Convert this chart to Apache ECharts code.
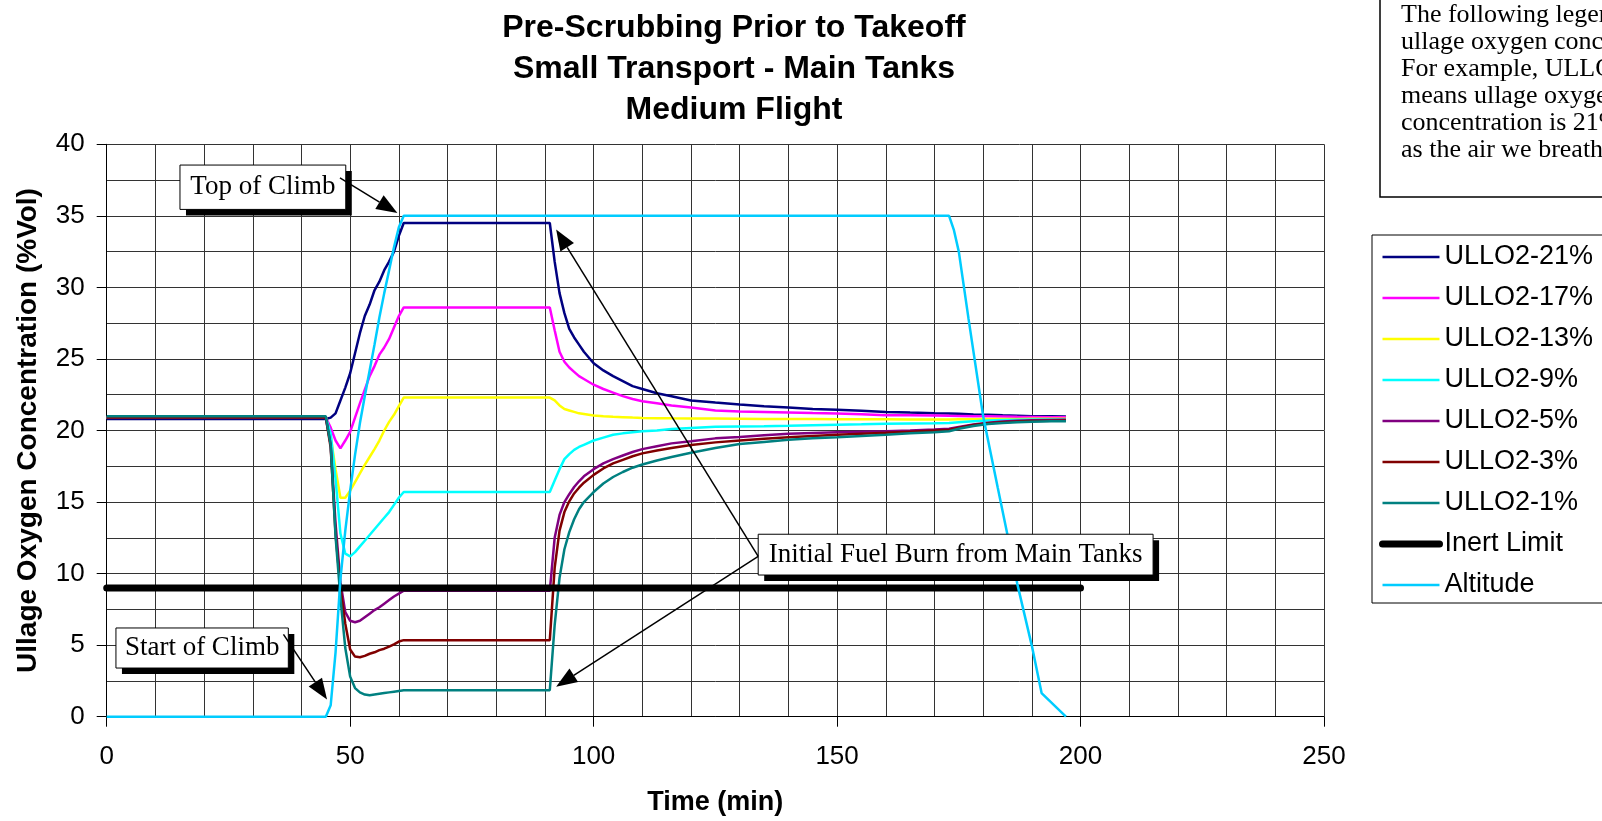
<!DOCTYPE html>
<html>
<head>
<meta charset="utf-8">
<script src="https://cdn.jsdelivr.net/npm/echarts@6/dist/echarts.min.js"></script>
<style>
html,body{margin:0;padding:0;background:#fff;}
#chart{width:1602px;height:821px;}
</style>
</head>
<body>
<div id="chart"></div>
<script>
// ---- data ----
const time = [0,45,46,47,48,49,50,51,52,53,54,55,56,57,58,59,60,61,91,92,93,94,95,96,97,98,100,102,104,106,108,110,113,116,120,125,130,135,140,145,150,155,160,165,170,173,175,178,181,184,187,190,194,197];
const ullo21 = [20.8,20.8,20.9,21.2,22.1,23.0,24.0,25.4,26.8,28.0,28.8,29.8,30.4,31.2,31.8,32.5,33.6,34.5,34.5,31.8,29.6,28.2,27.1,26.5,26.0,25.5,24.7,24.2,23.8,23.45,23.1,22.9,22.6,22.4,22.1,21.95,21.82,21.7,21.6,21.5,21.45,21.38,21.3,21.25,21.21,21.19,21.17,21.12,21.1,21.06,21.03,21.0,20.99,20.98];
const ullo17 = [20.9,20.9,20.2,19.3,18.75,19.3,19.9,20.9,21.9,22.85,23.8,24.5,25.3,25.8,26.4,27.2,28.0,28.6,28.6,27.0,25.5,24.8,24.4,24.1,23.8,23.6,23.2,22.9,22.65,22.4,22.2,22.05,21.9,21.75,21.6,21.4,21.33,21.3,21.26,21.22,21.19,21.13,21.07,21.06,21.05,21.03,21.02,21.0,21.0,20.98,20.96,20.95,20.93,20.93];
const ullo13 = [20.9,20.9,19.6,17.3,15.3,15.3,15.8,16.4,17.0,17.6,18.15,18.7,19.3,20.0,20.6,21.1,21.7,22.3,22.3,22.1,21.75,21.5,21.4,21.3,21.2,21.15,21.05,21.0,20.96,20.93,20.9,20.88,20.86,20.85,20.84,20.83,20.82,20.8,20.8,20.8,20.79,20.78,20.78,20.77,20.77,20.77,20.78,20.79,20.8,20.8,20.81,20.82,20.82,20.82];
const ullo9 = [20.9,20.9,19.8,16.6,12.8,11.4,11.2,11.5,11.9,12.3,12.7,13.1,13.5,13.9,14.3,14.8,15.3,15.7,15.7,16.5,17.3,18.0,18.35,18.65,18.85,19.0,19.3,19.5,19.7,19.8,19.88,19.94,20.0,20.1,20.18,20.26,20.28,20.3,20.33,20.37,20.4,20.43,20.47,20.49,20.51,20.53,20.58,20.65,20.7,20.73,20.75,20.76,20.77,20.77];
const ullo5 = [20.9,20.9,19.0,13.5,9.4,7.3,6.7,6.6,6.7,6.95,7.2,7.45,7.65,7.9,8.15,8.4,8.6,8.8,8.8,12.5,14.1,15.0,15.55,16.05,16.45,16.8,17.3,17.7,18.0,18.25,18.5,18.7,18.9,19.1,19.25,19.45,19.55,19.67,19.77,19.83,19.88,19.92,19.95,20.0,20.07,20.12,20.25,20.42,20.55,20.63,20.68,20.71,20.74,20.75];
const ullo3 = [20.9,20.9,18.8,12.8,9.0,6.5,4.7,4.2,4.15,4.25,4.4,4.5,4.65,4.75,4.9,5.05,5.25,5.35,5.35,10.4,13.0,14.3,15.05,15.6,16.0,16.35,16.9,17.35,17.7,17.95,18.2,18.4,18.6,18.77,18.98,19.17,19.3,19.42,19.53,19.62,19.7,19.78,19.84,19.92,20.0,20.05,20.2,20.38,20.5,20.58,20.63,20.66,20.69,20.7];
const ullo1 = [21.0,21.0,19.0,12.6,8.3,4.8,2.8,2.0,1.7,1.55,1.5,1.55,1.6,1.65,1.7,1.75,1.8,1.85,1.85,6.4,9.7,11.7,12.9,13.8,14.5,15.0,15.7,16.3,16.75,17.1,17.4,17.62,17.9,18.15,18.45,18.78,19.05,19.2,19.35,19.45,19.53,19.62,19.7,19.8,19.88,19.95,20.12,20.32,20.45,20.53,20.58,20.61,20.64,20.65];
const inertTime = [0, 200];
const inertLimit = [9, 9];
const altTime = [0,45,46,47,48,49,50,51,52,53,54,55,56,57,58,59,60,61,173,174,175,177,180,183,185,187,190,192,197];
const altitude = [0,0,0.8,4.5,9.6,13.0,15.8,18.3,20.5,22.4,24.2,26.0,27.9,29.6,31.2,32.8,34.2,35,35,34,32.5,27.8,21.0,16.0,12.7,9.3,4.95,1.65,0];
const seriesNames = ['ULLO2-21%','ULLO2-17%','ULLO2-13%','ULLO2-9%','ULLO2-5%','ULLO2-3%','ULLO2-1%','Inert Limit','Altitude'];
const xTicks = [0, 50, 100, 150, 200, 250];
const yTicks = [0, 5, 10, 15, 20, 25, 30, 35, 40];
const titleLines = ['Pre-Scrubbing Prior to Takeoff', 'Small Transport - Main Tanks', 'Medium Flight'];
const noteLines = ['The following legend describes the initial', 'ullage oxygen concentration.', 'For example, ULLO2-21%', 'means ullage oxygen', 'concentration is 21% same', 'as the air we breathe.'];

// ---- chart ----
const zip = (xs, ys) => xs.map((x, i) => [x, ys[i]]);
const colors = ['#000080','#FF00FF','#FFFF00','#00FFFF','#800080','#800000','#008080','#000000','#00CCFF'];
const widths = [2.5, 2.5, 2.5, 2.5, 2.5, 2.5, 2.5, 7, 2.5];
const seriesData = [
  zip(time, ullo21), zip(time, ullo17), zip(time, ullo13), zip(time, ullo9),
  zip(time, ullo5), zip(time, ullo3), zip(time, ullo1),
  zip(inertTime, inertLimit), zip(altTime, altitude)
];
const SANS = 'Liberation Sans, Arial, sans-serif';
const SERIF = 'Liberation Serif, Times New Roman, serif';

const chart = echarts.init(document.getElementById('chart'), null, {renderer: 'canvas'});
const gridLine = {show: true, lineStyle: {color: '#333333', width: 1}};
chart.setOption({
  animation: false,
  backgroundColor: '#fff',
  grid: {left: 106.7, right: 278, top: 144.3, bottom: 104.3, containLabel: false},
  xAxis: {
    type: 'value', min: xTicks[0], max: xTicks[xTicks.length - 1], interval: xTicks[1] - xTicks[0],
    name: 'Time (min)', nameLocation: 'middle', nameGap: 72,
    nameTextStyle: {fontFamily: SANS, fontSize: 27, fontWeight: 'bold', color: '#000'},
    axisLine: {show: true, onZero: false, lineStyle: {color: '#000', width: 1}},
    axisTick: {show: true, length: 10, lineStyle: {color: '#000'}},
    axisLabel: {fontFamily: SANS, fontSize: 26, color: '#000', margin: 27},
    splitLine: gridLine,
    minorTick: {show: false, splitNumber: 5},
    minorSplitLine: gridLine
  },
  yAxis: {
    type: 'value', min: yTicks[0], max: yTicks[yTicks.length - 1], interval: yTicks[1] - yTicks[0],
    name: 'Ullage Oxygen Concentration (%Vol)', nameLocation: 'middle', nameGap: 64,
    nameTextStyle: {fontFamily: SANS, fontSize: 28, fontWeight: 'bold', color: '#000'},
    axisLine: {show: true, onZero: false, lineStyle: {color: '#000', width: 1}},
    axisTick: {show: true, length: 10, lineStyle: {color: '#000'}},
    axisLabel: {fontFamily: SANS, fontSize: 26, color: '#000', margin: 22},
    splitLine: gridLine,
    minorTick: {show: false, splitNumber: 2},
    minorSplitLine: gridLine
  },
  legend: {
    orient: 'vertical', left: 1372, top: 235,
    padding: [7, 30, 3, 7],
    itemWidth: 57, itemHeight: 14, itemGap: 11,
    backgroundColor: '#fff', borderColor: '#000', borderWidth: 1,
    textStyle: {fontFamily: SANS, fontSize: 27, color: '#000', lineHeight: 30},
    itemStyle: {opacity: 0, borderWidth: 0},
    data: seriesNames.map((n, i) => ({
      name: n,
      lineStyle: {color: colors[i], width: widths[i], cap: i === 7 ? 'round' : 'butt', opacity: 1}
    }))
  },
  series: seriesNames.map((name, i) => ({
    name: name, type: 'line', symbol: 'none', data: seriesData[i],
    z: 2 + i,
    lineStyle: {color: colors[i], width: widths[i], cap: i === 7 ? 'round' : 'butt'},
    itemStyle: {color: colors[i]}
  }))
});

// ---- annotations (positions given in data coordinates) ----
const P = (x, y) => chart.convertToPixel({gridIndex: 0}, [x, y]);
function arrow(from, to) {
  const a = P(from[0], from[1]), b = P(to[0], to[1]);
  const dx = b[0] - a[0], dy = b[1] - a[1], len = Math.hypot(dx, dy);
  const ux = dx / len, uy = dy / len, L = 21, W = 8;
  const bx = b[0] - ux * L, by = b[1] - uy * L;
  return [
    {type: 'line', z: 50, shape: {x1: a[0], y1: a[1], x2: bx, y2: by}, style: {stroke: '#000', lineWidth: 1.5}},
    {type: 'polygon', z: 50, shape: {points: [[b[0], b[1]], [bx - uy * W, by + ux * W], [bx + uy * W, by - ux * W]]}, style: {fill: '#000'}}
  ];
}
function callout(text, tl, br, fontSize) {
  const a = P(tl[0], tl[1]), b = P(br[0], br[1]);
  const w = b[0] - a[0], h = b[1] - a[1];
  return [
    {type: 'rect', z: 48, shape: {x: a[0] + 6, y: a[1] + 6, width: w, height: h}, style: {fill: '#000'}},
    {type: 'rect', z: 49, shape: {x: a[0], y: a[1], width: w, height: h}, style: {fill: '#fff', stroke: '#000', lineWidth: 1}},
    {type: 'text', z: 51, x: a[0] + w / 2, y: a[1] + h / 2,
     style: {text: text, fill: '#000', font: fontSize + 'px ' + SERIF, align: 'center', verticalAlign: 'middle'}}
  ];
}
let g = [];
g = g.concat(callout('Top of Climb', [15.05, 38.55], [49.1, 35.45], 27));
g = g.concat(arrow([47.9, 37.65], [59.7, 35.2]));
g = g.concat(callout('Start of Climb', [1.9, 6.2], [37.3, 3.4], 27));
g = g.concat(arrow([36.3, 5.75], [45.25, 1.2]));
g = g.concat(callout('Initial Fuel Burn from Main Tanks', [133.8, 12.75], [214.9, 9.9], 27));
g = g.concat(arrow([133.8, 11.2], [92.3, 34.05]));
g = g.concat(arrow([133.8, 11.2], [92.3, 2.1]));

// title
const titleY = [28, 69, 110];
titleLines.forEach((t, i) => g.push({type: 'text', z: 60, x: 734, y: titleY[i],
  style: {text: t, fill: '#000', font: 'bold 32px ' + SANS, align: 'center', verticalAlign: 'middle'}}));

// note box (top right)
g.push({type: 'rect', z: 40, shape: {x: 1380, y: -10, width: 400, height: 207}, style: {fill: '#fff', stroke: '#000', lineWidth: 1.5}});
noteLines.forEach((t, i) => g.push({type: 'text', z: 41, x: 1401, y: 15 + i * 27,
  style: {text: t, fill: '#000', font: '26px ' + SERIF, align: 'left', verticalAlign: 'middle'}}));

chart.setOption({graphic: g});
</script>
</body>
</html>
